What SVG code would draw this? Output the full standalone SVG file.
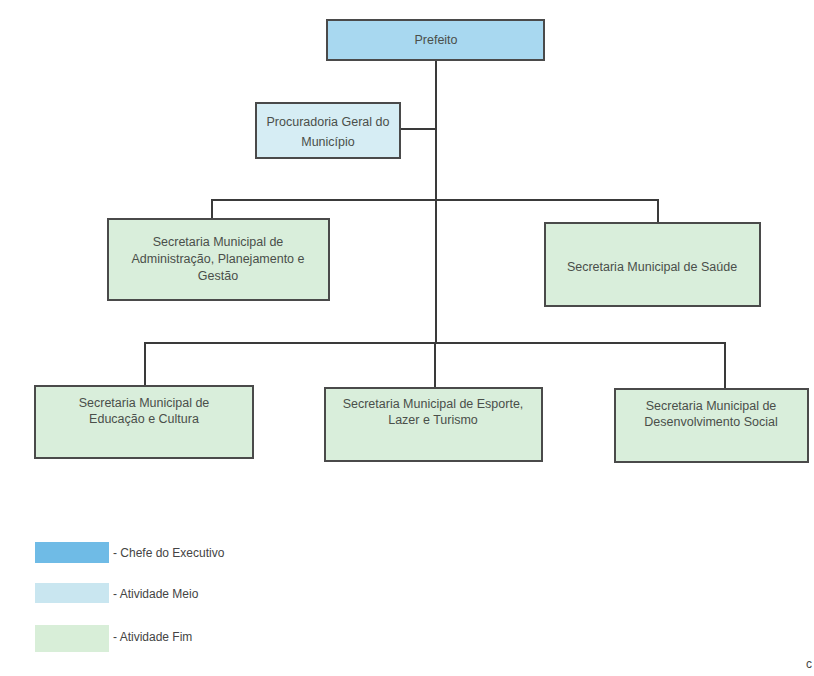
<svg xmlns="http://www.w3.org/2000/svg" width="814" height="676" viewBox="0 0 814 676">
<style>
.box{stroke:#4a4a4a;stroke-width:2}
.chefe{fill:#a8d8f0}
.meio{fill:#d6edf4}
.fim{fill:#d9eedb}
.t{font-family:"Liberation Sans",Arial,sans-serif;font-size:12.5px;fill:#4a4f4a;text-anchor:middle}
.lg{font-family:"Liberation Sans",Arial,sans-serif;font-size:12px;fill:#444}
.conn{fill:none;stroke:#3a3a3a;stroke-width:2}
</style>
<rect width="814" height="676" fill="#ffffff"/>
<g id="connectors">
<path class="conn" d="M436 60 V343"/>
<path class="conn" d="M400 129 H436"/>
<path class="conn" d="M212 219 V200 H658 V223"/>
<path class="conn" d="M145 386 V343 H725 V389"/>
<path class="conn" d="M435 343 V388"/>
</g>
<g id="prefeito">
<rect class="box chefe" x="327" y="20" width="217" height="40"/>
<text class="t" x="436" y="44">Prefeito</text>
</g>
<g id="procuradoria">
<rect class="box meio" x="256" y="103" width="144" height="55"/>
<text class="t" x="328" y="126">Procuradoria Geral do</text>
<text class="t" x="328" y="146">Município</text>
</g>
<g id="administracao">
<rect class="box fim" x="108" y="219" width="221" height="81"/>
<text class="t" x="218" y="246">Secretaria Municipal de</text>
<text class="t" x="218" y="263">Administração, Planejamento e</text>
<text class="t" x="218" y="280">Gestão</text>
</g>
<g id="saude">
<rect class="box fim" x="545" y="223" width="215" height="83"/>
<text class="t" x="652" y="271">Secretaria Municipal de Saúde</text>
</g>
<g id="educacao">
<rect class="box fim" x="35" y="386" width="218" height="72"/>
<text class="t" x="144" y="407">Secretaria Municipal de</text>
<text class="t" x="144" y="423">Educação e Cultura</text>
</g>
<g id="esporte">
<rect class="box fim" x="325" y="388" width="217" height="73"/>
<text class="t" x="433" y="408">Secretaria Municipal de Esporte,</text>
<text class="t" x="433" y="424">Lazer e Turismo</text>
</g>
<g id="desenvolvimento">
<rect class="box fim" x="615" y="389" width="193" height="73"/>
<text class="t" x="711" y="410">Secretaria Municipal de</text>
<text class="t" x="711" y="426">Desenvolvimento Social</text>
</g>
<g id="legenda">
<rect x="35" y="542" width="74" height="21" fill="#6fbbe6"/>
<text class="lg" x="113" y="557">- Chefe do Executivo</text>
<rect x="35" y="583" width="74" height="20" fill="#c9e6f0"/>
<text class="lg" x="113" y="598">- Atividade Meio</text>
<rect x="35" y="625" width="74" height="27" fill="#d8eed8"/>
<text class="lg" x="113" y="641">- Atividade Fim</text>
</g>
<text class="lg" x="806" y="668">c</text>
</svg>
